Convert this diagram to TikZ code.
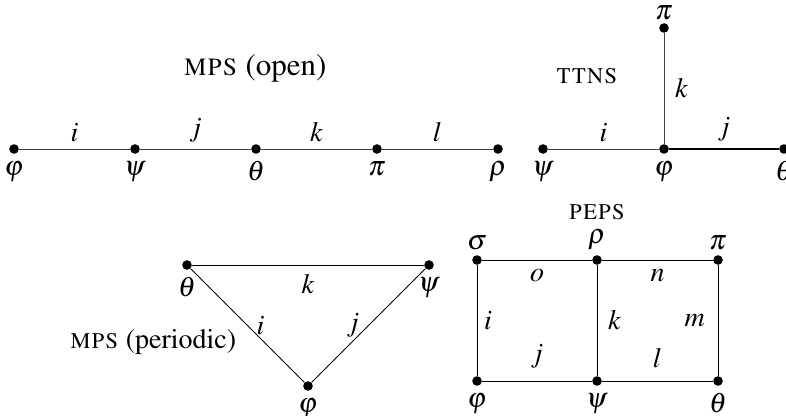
\documentclass[tikz,border=0pt]{standalone}
\usepackage[T1]{fontenc}
\usepackage{mathptmx}
\usepackage{xcolor}

\begin{document}
\begin{tikzpicture}[x=0.5pt,y=-0.5pt,font=\fontsize{14}{16}\selectfont,
    dot/.style={shape=circle,fill=black,inner sep=0pt,minimum size=4.8pt,label distance=-2.5pt},
    bond/.style={draw=black!75,line width=0.45pt},
    link/.style={draw=black,line width=0.45pt}]
                    \useasboundingbox (0,0) rectangle (786,416);

                    % MPS (open)
                    \node[font=\fontsize{15.5}{18}\selectfont] at (255,68) {\textsc{mps} (open)};
                    \node[dot,label=below:{$\varphi$}] (A) at (14,149) {};
                    \node[dot,label=below:{$\psi$}] (B) at (135,149) {};
                    \node[dot,label=below:{$\theta$}] (C) at (256,149) {};
                    \node[dot,label=below:{$\pi$}] (D) at (377,149) {};
                    \node[dot,label=below:{$\rho$}] (E) at (498,149) {};

                    \draw[bond] (A) -- node[above] {$i$} (B);
                    \draw[bond] (B) -- node[above] {$j$} (C);
                    \draw[bond] (C) -- node[above] {$k$} (D);
                    \draw[bond] (D) -- node[above] {$l$} (E);

                    % TTNS
                    \node at (587,76) {\textsc{ttns}};
                    \node[dot,label=below:{$\varphi$}] (F) at (664,149) {};
                    \node[dot,label=below:{$\psi$}] (G) at (543,149) {};
                    \node[dot,label={[label distance=-2pt]above:{$\pi$}}] (H) at (664,28) {};
                    \node[dot,label=below:{$\theta$}] (I) at (784,149) {};

                    \draw[bond] (G) -- node[above] {$i$} (F);
                    \draw[bond] (F) -- node[right=2pt] {$k$} (H);
                    \draw[line width=1.1pt] (F) -- node[above] {$j$} (I);

                    % MPS (periodic)
                    \node at (153,342) {\textsc{mps} (periodic)};
                    \node[dot,label=below:{$\theta$}] (J) at (187,265) {};
                    \node[dot,label=below:{$\psi$}] (K) at (429,265) {};
                    \node[dot,label=below:{$\varphi$}] (L) at (308,386) {};

                    \draw[link] (J) -- node[below=1pt] {$k$} (K);
                    \draw[link] (J) -- node[right=1pt] {$i$} (L);
                    \draw[link] (K) -- node[left=1pt] {$j$} (L);

                    % PEPS
                    \node at (597,212) {\textsc{peps}};
                    \node[dot,label={[label distance=-1pt]above:{$\sigma$}}] (M) at (477,260) {};
                    \node[dot,label={[label distance=-1pt]above:{$\rho$}}] (N) at (597,260) {};
                    \node[dot,label={[label distance=-1pt]above:{$\pi$}}] (O) at (718,260) {};
                    \node[dot,label=below:{$\varphi$}] (P) at (477,381) {};
                    \node[dot,label=below:{$\psi$}] (Q) at (597,381) {};
                    \node[dot,label=below:{$\theta$}] (R) at (718,381) {};

                    \draw[link] (M) -- node[below=1pt] {$o$} (N);
                    \draw[link] (N) -- node[below=1pt] {$n$} (O);
                    \draw[link] (P) -- node[above=3pt] {$j$} (Q);
                    \draw[link] (Q) -- node[above=3pt] {$l$} (R);
                    \draw[link] (M) -- node[right=0pt] {$i$} (P);
                    \draw[link] (N) -- node[right=2pt] {$k$} (Q);
                    \draw[link] (O) -- node[left=3pt] {$m$} (R);
                \end{tikzpicture}
\end{document}
